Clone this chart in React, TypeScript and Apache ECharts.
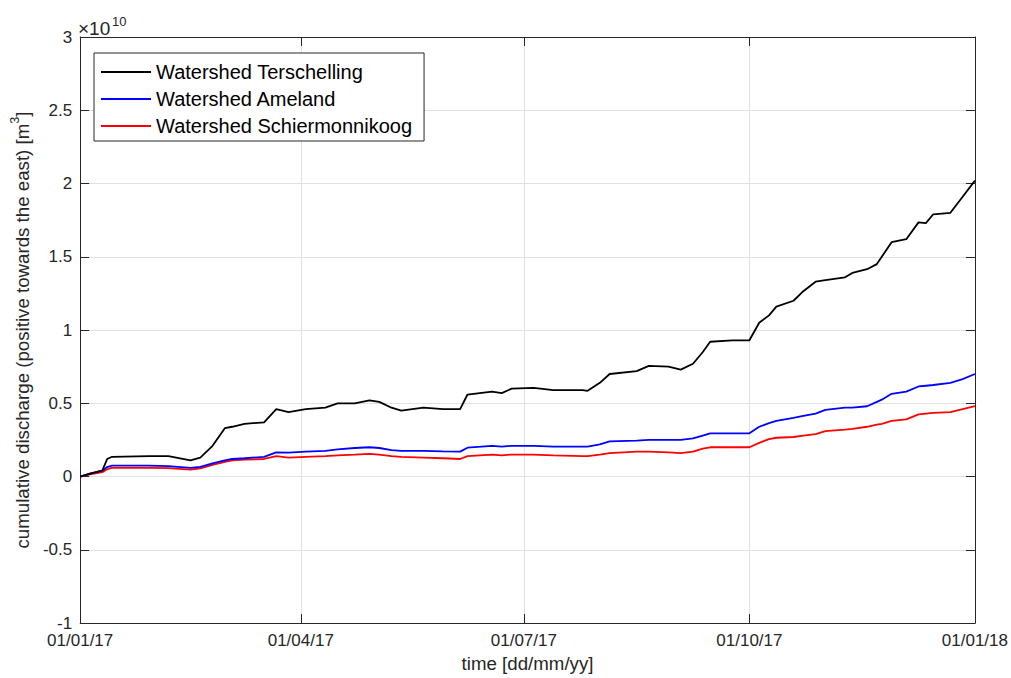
import React, { useEffect, useRef } from "react";
import * as echarts from "echarts";

// day offsets since 01/01/17
const days = [0, 4, 9, 11, 13, 28, 36, 45, 49, 54, 59, 62, 67, 75, 80, 85, 92, 100, 105, 112, 118, 122, 127, 131, 140, 148, 155, 158, 168, 172, 176, 185, 193, 205, 207, 212, 216, 227, 232, 240, 245, 250, 254, 257, 266, 273, 277, 281, 284, 291, 295, 300, 304, 312, 315, 321, 325, 327, 331, 337, 342, 345, 348, 355, 360, 365];

// cumulative discharge in units of 1e10 m^3
const terschelling = [0, 0.02, 0.04, 0.12, 0.135, 0.14, 0.14, 0.11, 0.13, 0.21, 0.33, 0.34, 0.36, 0.37, 0.46, 0.44, 0.46, 0.47, 0.5, 0.5, 0.52, 0.51, 0.47, 0.45, 0.47, 0.46, 0.46, 0.56, 0.58, 0.57, 0.6, 0.605, 0.59, 0.59, 0.585, 0.64, 0.7, 0.72, 0.755, 0.75, 0.73, 0.77, 0.85, 0.92, 0.93, 0.93, 1.05, 1.1, 1.16, 1.2, 1.265, 1.33, 1.34, 1.36, 1.39, 1.415, 1.45, 1.5, 1.6, 1.62, 1.735, 1.73, 1.79, 1.8, 1.91, 2.02];
const ameland = [0, 0.02, 0.04, 0.065, 0.075, 0.075, 0.072, 0.06, 0.066, 0.09, 0.11, 0.12, 0.125, 0.135, 0.165, 0.163, 0.17, 0.175, 0.185, 0.195, 0.2, 0.195, 0.18, 0.175, 0.175, 0.172, 0.17, 0.197, 0.21, 0.205, 0.21, 0.21, 0.205, 0.204, 0.204, 0.22, 0.24, 0.245, 0.25, 0.25, 0.25, 0.26, 0.28, 0.295, 0.295, 0.295, 0.34, 0.365, 0.38, 0.4, 0.415, 0.43, 0.455, 0.47, 0.47, 0.48, 0.51, 0.525, 0.565, 0.58, 0.615, 0.62, 0.625, 0.64, 0.665, 0.7];
const schiermonnikoog = [0, 0.015, 0.03, 0.05, 0.06, 0.06, 0.058, 0.048, 0.056, 0.08, 0.1, 0.11, 0.115, 0.12, 0.14, 0.13, 0.135, 0.14, 0.145, 0.15, 0.155, 0.15, 0.14, 0.135, 0.13, 0.125, 0.12, 0.14, 0.15, 0.145, 0.15, 0.15, 0.145, 0.14, 0.14, 0.15, 0.16, 0.17, 0.17, 0.165, 0.16, 0.17, 0.19, 0.2, 0.2, 0.2, 0.23, 0.255, 0.265, 0.27, 0.28, 0.29, 0.31, 0.32, 0.325, 0.34, 0.355, 0.36, 0.38, 0.39, 0.425, 0.43, 0.435, 0.44, 0.46, 0.48];

const seriesNames = ["Watershed Terschelling", "Watershed Ameland", "Watershed Schiermonnikoog"];
const seriesColors = ["#000000", "#0000ff", "#ff0000"];

const xTickDays = [0, 90, 181, 273, 365];
const xTickLabels = ["01/01/17", "01/04/17", "01/07/17", "01/10/17", "01/01/18"];

const FONT = "'Liberation Sans', Arial, Helvetica, sans-serif";
const AX = "#262626";
const GRIDC = "#e0e0e0";

export default function App() {
  const ref = useRef<HTMLDivElement>(null);
  useEffect(() => {
    if (!ref.current) return;
    const chart = echarts.init(ref.current, undefined, { renderer: "svg" });
    const values = [terschelling, ameland, schiermonnikoog];
    const xFmt = (v: number) => {
      const i = xTickDays.indexOf(Math.round(v));
      return i >= 0 ? xTickLabels[i] : "";
    };
    const option: any = {
      animation: false,
      backgroundColor: "#ffffff",
      textStyle: { fontFamily: FONT },
      grid: { left: 77, right: 35, top: 37, bottom: 53, containLabel: false },
      legend: {
        left: 94,
        top: 53,
        orient: "vertical",
        backgroundColor: "#ffffff",
        borderColor: AX,
        borderWidth: 1,
        borderRadius: 0,
        padding: [9, 12, 5, 7],
        itemGap: 7,
        itemWidth: 50,
        itemHeight: 2,
        icon: "rect",
        textStyle: { fontFamily: FONT, fontSize: 20, color: "#000000" },
        data: seriesNames,
      },
      xAxis: [
        {
          type: "value",
          min: 0,
          max: 365,
          name: "time [dd/mm/yy]",
          nameLocation: "middle",
          nameGap: 26,
          nameTextStyle: { fontFamily: FONT, fontSize: 18.7, color: AX },
          axisLine: { show: true, onZero: false, lineStyle: { color: AX, width: 1 } },
          axisTick: { show: true, inside: true, length: 9, lineStyle: { color: AX }, customValues: xTickDays },
          axisLabel: { show: true, customValues: xTickDays, formatter: xFmt, fontFamily: FONT, fontSize: 17, color: AX, margin: 9 },
          splitLine: { show: true, lineStyle: { color: GRIDC, width: 1 } },
        },
        {
          type: "value",
          position: "top",
          min: 0,
          max: 365,
          axisLine: { show: true, onZero: false, lineStyle: { color: AX, width: 1 } },
          axisTick: { show: true, inside: true, length: 9, lineStyle: { color: AX }, customValues: xTickDays },
          axisLabel: { show: false },
          splitLine: { show: false },
        },
      ],
      yAxis: [
        {
          type: "value",
          min: -1,
          max: 3,
          interval: 0.5,
          name: "{n|cumulative discharge (positive towards the east) [m}{s|3}{n|]}",
          nameLocation: "middle",
          nameGap: 47,
          nameRotate: 90,
          nameTextStyle: {
            fontFamily: FONT,
            color: AX,
            rich: {
              n: { fontFamily: FONT, fontSize: 18.7, color: AX, lineHeight: 24, verticalAlign: "bottom" },
              s: { fontFamily: FONT, fontSize: 12.5, color: AX, lineHeight: 24, verticalAlign: "top" },
            },
          },
          axisLine: { show: true, onZero: false, lineStyle: { color: AX, width: 1 } },
          axisTick: { show: true, inside: true, length: 9, lineStyle: { color: AX } },
          axisLabel: { fontFamily: FONT, fontSize: 17, color: AX, margin: 8 },
          splitLine: { show: true, lineStyle: { color: GRIDC, width: 1 } },
        },
        {
          type: "value",
          position: "right",
          min: -1,
          max: 3,
          interval: 0.5,
          axisLine: { show: true, onZero: false, lineStyle: { color: AX, width: 1 } },
          axisTick: { show: true, inside: true, length: 9, lineStyle: { color: AX } },
          axisLabel: { show: false },
          splitLine: { show: false },
        },
      ],
      graphic: [
        { type: "text", x: 78, y: 28, style: { text: "×10", font: `19px ${FONT}`, fill: AX, verticalAlign: "middle", align: "left" } },
        { type: "text", x: 112, y: 21, style: { text: "10", font: `13px ${FONT}`, fill: AX, verticalAlign: "middle", align: "left" } },
      ],
      series: seriesNames.map((name, k) => ({
        name,
        type: "line",
        xAxisIndex: 0,
        yAxisIndex: 0,
        showSymbol: false,
        symbol: "none",
        color: seriesColors[k],
        lineStyle: { color: seriesColors[k], width: 1.8 },
        data: days.map((d, i) => [d, values[k][i]]),
        z: 3 - k + 2,
      })),
    };
    chart.setOption(option);
    return () => chart.dispose();
  }, []);
  return <div ref={ref} style={{ position: "absolute", left: 0, top: 0, width: 1011, height: 678 }} />;
}
